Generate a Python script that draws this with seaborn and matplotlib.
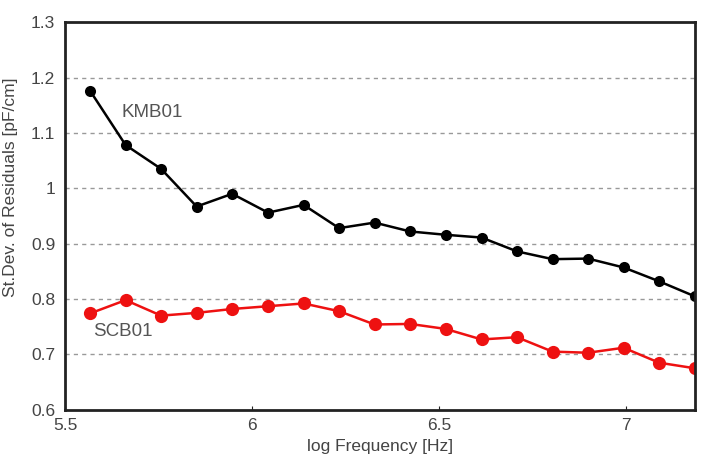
import numpy as np
import pandas as pd
import seaborn as sns
from matplotlib import pyplot as plt
from matplotlib.ticker import FormatStrFormatter

sns.set_style("white")
plt.rcParams['font.family'] = ['Liberation Sans', 'DejaVu Sans']

# log frequency of each measurement
logf = [5.567, 5.662, 5.757, 5.852, 5.947, 6.043, 6.138, 6.233, 6.328,
        6.423, 6.518, 6.614, 6.709, 6.804, 6.899, 6.994, 7.089, 7.184]
kmb01 = [1.176, 1.078, 1.035, 0.967, 0.990, 0.956, 0.970, 0.928, 0.938,
         0.922, 0.916, 0.911, 0.886, 0.872, 0.873, 0.857, 0.832, 0.805]
scb01 = [0.774, 0.798, 0.770, 0.775, 0.782, 0.787, 0.792, 0.778, 0.754,
         0.755, 0.746, 0.727, 0.731, 0.705, 0.703, 0.712, 0.685, 0.675]

df = pd.DataFrame({'logf': logf * 2,
                   'sd': kmb01 + scb01,
                   'cable': ['KMB01'] * len(logf) + ['SCB01'] * len(logf)})

fig = plt.figure(figsize=(7.07, 4.71), dpi=100)
ax = fig.add_axes([0.092, 0.13, 0.891, 0.823])

sns.lineplot(data=df[df.cable == 'KMB01'], x='logf', y='sd', color='black',
             marker='o', markersize=8, linewidth=1.8, markeredgewidth=0, ax=ax)
sns.lineplot(data=df[df.cable == 'SCB01'], x='logf', y='sd', color='#ee1111',
             marker='o', markersize=9.5, linewidth=1.8, markeredgewidth=0, ax=ax)

ax.set_xlim(5.5, 7.185)
ax.set_ylim(0.6, 1.3)
ax.set_xticks([5.5, 6, 6.5, 7])
ax.set_yticks([0.6, 0.7, 0.8, 0.9, 1.0, 1.1, 1.2, 1.3])
ax.xaxis.set_major_formatter(FormatStrFormatter('%g'))
ax.yaxis.set_major_formatter(FormatStrFormatter('%g'))
for y in [0.7, 0.8, 0.9, 1.0, 1.1, 1.2]:
    ax.axhline(y, color='#999999', linestyle=(0, (3, 3)), linewidth=1, zorder=0)

for s in ax.spines.values():
    s.set_color('#222222')
    s.set_linewidth(2)
ax.tick_params(axis='x', direction='in', length=3, bottom=True, colors='#222222',
               labelcolor='#444444', labelsize=12.5, pad=6)
ax.tick_params(axis='y', length=0, labelcolor='#444444', labelsize=12.5, pad=7)

ax.text(5.652, 1.136, 'KMB01', fontsize=13.5, color='#555555', va='center')
ax.text(5.575, 0.741, 'SCB01', fontsize=13.5, color='#555555', va='center')

ax.set_xlabel('log Frequency [Hz]', fontsize=12.5, color='#444444', labelpad=4)
ax.set_ylabel('St.Dev. of Residuals [pF/cm]', fontsize=12.5, color='#444444')
ax.yaxis.set_label_coords(-0.074, 0.575)

plt.savefig('out.png', dpi=100)
